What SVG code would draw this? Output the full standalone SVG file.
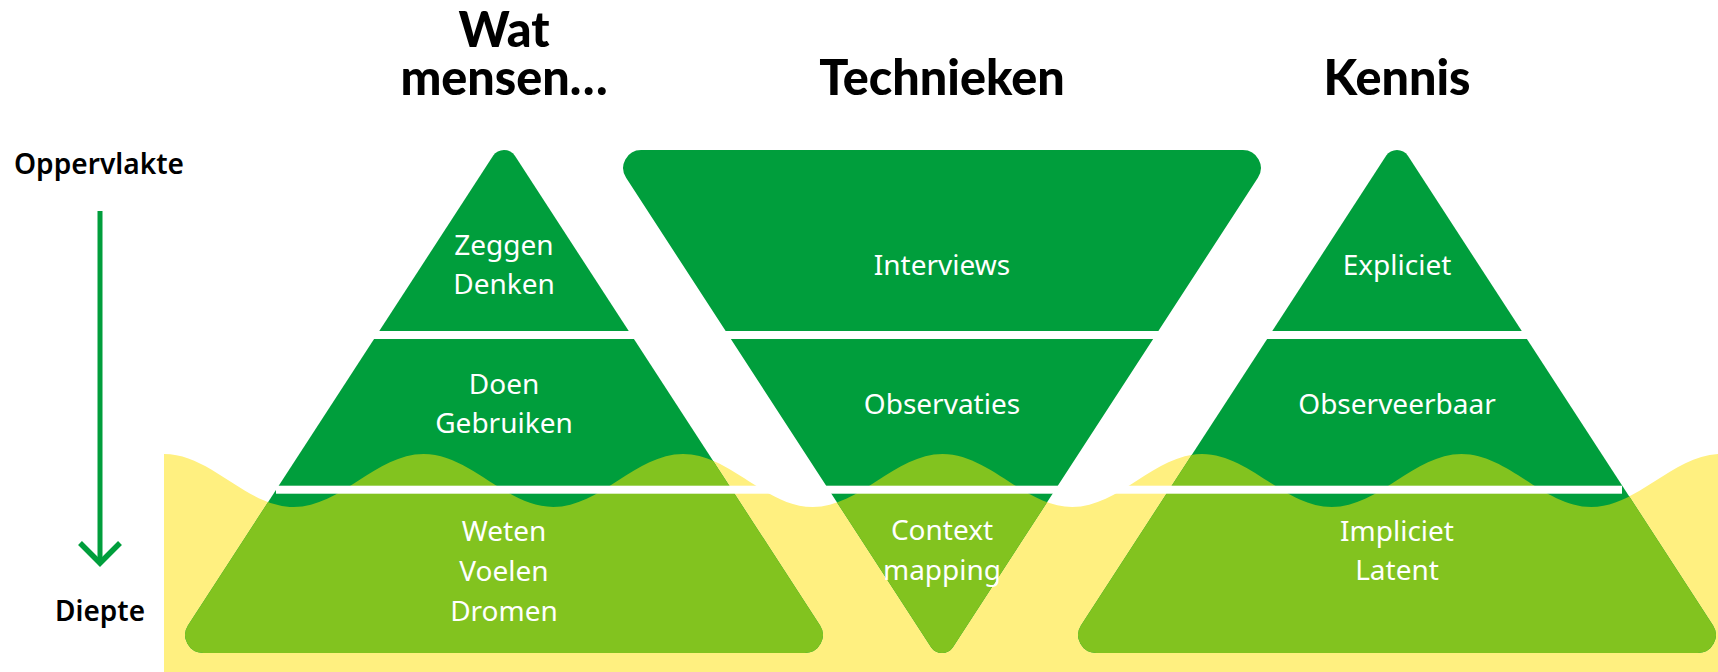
<svg xmlns="http://www.w3.org/2000/svg" xmlns:xlink="http://www.w3.org/1999/xlink" width="1718" height="672" viewBox="0 0 1718 672">
  <style>
    .title { font-family: Lato, "Liberation Sans", sans-serif; font-weight: 900; font-size: 48.5px; fill: #000; text-anchor: middle; }
    .side { font-family: "Noto Sans", "Liberation Sans", sans-serif; font-weight: 600; font-size: 28px; fill: #000; }
    .lbl { font-family: "Noto Sans", "Liberation Sans", sans-serif; font-weight: 400; font-size: 28px; fill: #fff; text-anchor: middle; }
    .dark { fill: #009E3C; }
    .light { fill: #82C31F; }
    .band { fill: #fff; }
  </style>
  <defs>
    <path id="wave" d="M164 454 c47.15 0 82.6 53 129.75 53 s82.6 -53 129.75 -53 s82.6 53 129.75 53 s82.6 -53 129.75 -53 s82.6 53 129.75 53 s82.6 -53 129.75 -53 s82.6 53 129.75 53 s82.6 -53 129.75 -53 s82.6 53 129.75 53 s82.6 -53 129.75 -53 s82.6 53 129.75 53 s82.6 -53 129.75 -53 L1721 672 L164 672 Z"/>
    <path id="shape-left" d="M493.1 155.8 A13 13 0 0 1 514.9 155.8 L819.9 625.2 A18 18 0 0 1 804.9 653 L203.1 653 A18 18 0 0 1 188.1 625.2 Z"/>
    <path id="shape-mid" d="M952.9 647.2 A13 13 0 0 1 931.1 647.2 L626.1 177.8 A18 18 0 0 1 641.1 150 L1242.9 150 A18 18 0 0 1 1257.9 177.8 Z"/>
    <path id="shape-right" d="M1386.1 155.8 A13 13 0 0 1 1407.9 155.8 L1712.9 625.2 A18 18 0 0 1 1697.9 653 L1096.1 653 A18 18 0 0 1 1081.1 625.2 Z"/>
    <clipPath id="clip-left"><use xlink:href="#shape-left"/></clipPath>
    <clipPath id="clip-mid"><use xlink:href="#shape-mid"/></clipPath>
    <clipPath id="clip-right"><use xlink:href="#shape-right"/></clipPath>
  </defs>

  <rect width="1718" height="672" fill="#fff"/>

  <g id="water">
    <use xlink:href="#wave" fill="#FFF080"/>
  </g>

  <g id="titles">
    <text class="title" x="504" y="47"><tspan x="504" y="47">Wat</tspan><tspan x="504" y="95">mensen…</tspan></text>
    <text class="title" x="942" y="95">Technieken</text>
    <text class="title" x="1397" y="95">Kennis</text>
  </g>

  <g id="label-oppervlakte">
    <text class="side" x="14" y="174" textLength="170" lengthAdjust="spacingAndGlyphs">Oppervlakte</text>
  </g>
  <g id="label-diepte">
    <text class="side" x="55" y="621" textLength="90" lengthAdjust="spacingAndGlyphs">Diepte</text>
  </g>

  <g id="pyramid-mensen">
    <use xlink:href="#shape-left" class="dark"/>
    <use xlink:href="#wave" class="light" clip-path="url(#clip-left)"/>
  </g>
  <g id="triangle-technieken">
    <use xlink:href="#shape-mid" class="dark"/>
    <use xlink:href="#wave" class="light" clip-path="url(#clip-mid)"/>
  </g>
  <g id="pyramid-kennis">
    <use xlink:href="#shape-right" class="dark"/>
    <use xlink:href="#wave" class="light" clip-path="url(#clip-right)"/>
  </g>

  <g id="bands">
    <rect class="band" x="370" y="331" width="1160" height="8"/>
    <rect class="band" x="276" y="485.7" width="1346" height="8"/>
  </g>

  <g id="labels-mensen">
    <text class="lbl" x="504" y="255">Zeggen</text>
    <text class="lbl" x="504" y="294">Denken</text>
    <text class="lbl" x="504" y="394">Doen</text>
    <text class="lbl" x="504" y="433">Gebruiken</text>
    <text class="lbl" x="504" y="541">Weten</text>
    <text class="lbl" x="504" y="581">Voelen</text>
    <text class="lbl" x="504" y="621">Dromen</text>
  </g>
  <g id="labels-technieken">
    <text class="lbl" x="942" y="275">Interviews</text>
    <text class="lbl" x="942" y="414">Observaties</text>
    <text class="lbl" x="942" y="540">Context</text>
    <text class="lbl" x="942" y="580">mapping</text>
  </g>
  <g id="labels-kennis">
    <text class="lbl" x="1397" y="275">Expliciet</text>
    <text class="lbl" x="1397" y="414">Observeerbaar</text>
    <text class="lbl" x="1397" y="541">Impliciet</text>
    <text class="lbl" x="1397" y="580">Latent</text>
  </g>

  <g id="connectors" fill="none" stroke="#009E3C" stroke-width="5">
    <line x1="100" y1="211" x2="100" y2="563"/>
    <polyline points="80,543 100,563 120,543" stroke-width="5.5"/>
  </g>
</svg>
